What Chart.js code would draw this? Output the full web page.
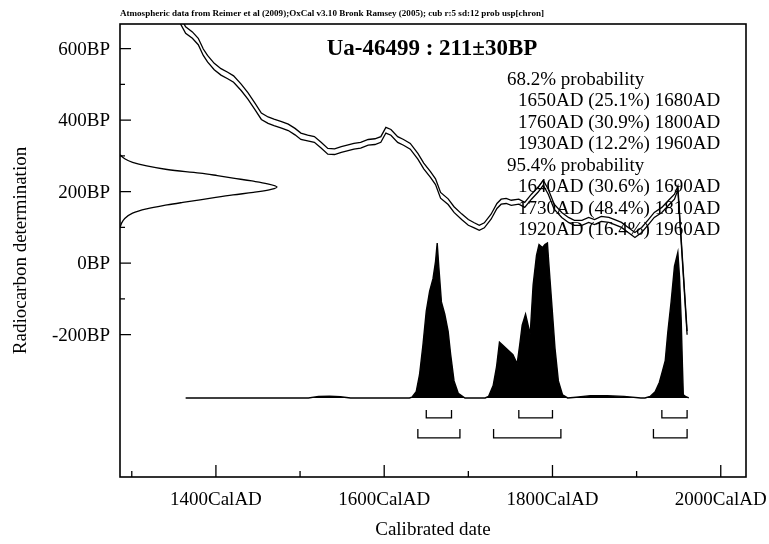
<!DOCTYPE html>
<html>
<head>
<meta charset="utf-8">
<title>Ua-46499 : 211±30BP</title>
<script src="https://cdn.jsdelivr.net/npm/chart.js@4/dist/chart.umd.min.js"></script>
<style>
  body { margin: 0; background: #fff; }
  canvas { display: block; }
</style>
</head>
<body>
<canvas id="chart" width="769" height="544"></canvas>
<script>
// calibration curve band (upper / lower edge)
const calYears = [
    1355, 1364, 1372, 1379, 1385, 1390, 1398, 1406, 1414, 1421,
    1430, 1438, 1446, 1454, 1462, 1469, 1478, 1486, 1494, 1501,
    1509, 1517, 1525, 1533, 1541, 1549, 1556, 1564, 1572, 1581,
    1589, 1596, 1602, 1608, 1616, 1623, 1631, 1640, 1647, 1655,
    1661, 1667, 1676, 1683, 1692, 1700, 1707, 1713, 1719, 1727,
    1734, 1739, 1745, 1751, 1760, 1767, 1775, 1783, 1789, 1795,
    1802, 1811, 1819, 1826, 1835, 1843, 1850, 1858, 1867, 1874,
    1882, 1890, 1898, 1906, 1914, 1921, 1930, 1938, 1945, 1949,
    1960
];
const calUpper = [
    700, 661, 647, 629, 599, 581, 559, 544, 534, 524,
    501, 477, 449, 420, 409, 403, 396, 389, 377, 364,
    358, 354, 338, 321, 320, 326, 330, 335, 338, 346,
    348, 354, 380, 374, 354, 346, 335, 307, 280, 256,
    236, 198, 180, 158, 138, 122, 113, 106, 113, 137,
    167, 179, 181, 176, 179, 170, 193, 213, 232, 207,
    165, 142, 128, 120, 120, 128, 122, 131, 128, 122,
    114, 100, 86, 100, 122, 142, 156, 176, 193, 215,
    -190
];
const calLower = [
    682, 643, 629, 611, 581, 563, 541, 526, 516, 506,
    483, 459, 431, 402, 391, 385, 378, 371, 359, 346,
    342, 338, 322, 305, 304, 310, 314, 319, 322, 330,
    332, 338, 364, 358, 338, 330, 319, 291, 264, 240,
    220, 182, 164, 142, 122, 106, 99, 92, 99, 123,
    153, 165, 167, 162, 165, 156, 179, 199, 218, 193,
    151, 128, 114, 106, 106, 114, 108, 117, 114, 108,
    100, 86, 72, 86, 108, 128, 142, 162, 179, 205,
    -200
];

// radiocarbon measurement, drawn sideways on the y axis
const dateBP = [303, 292, 282, 272, 262, 252, 245, 238, 230, 222, 213, 205,
    198, 191, 184, 177, 170, 163, 152, 140, 125, 112, 99];
const dateDensity = [0, 0.03, 0.08, 0.17, 0.3, 0.51, 0.62, 0.72, 0.84, 0.94, 1.0, 0.95,
    0.85, 0.72, 0.61, 0.51, 0.4, 0.3, 0.17, 0.08, 0.03, 0.01, 0];

// calibrated date distribution
const probYears = [
    1364, 1510, 1522, 1535, 1548, 1560, 1630, 1633, 1638, 1642,
    1646, 1650, 1654, 1658, 1661, 1663, 1665, 1668, 1672, 1676,
    1679, 1683, 1688, 1696, 1720, 1724, 1729.5, 1733.5, 1737, 1741,
    1747, 1753, 1758, 1761, 1764, 1768, 1771, 1773.5, 1777, 1781,
    1784, 1788, 1791, 1794, 1795.5, 1799, 1803, 1807, 1812, 1818,
    1828, 1845, 1865, 1885, 1905, 1910, 1916, 1922, 1927, 1931,
    1934, 1937, 1941, 1945, 1949, 1951, 1953, 1954.5, 1955.5, 1958,
    1962
];
const probValues = [
    0, 0, 0.01, 0.012, 0.008, 0, 0, 0.005, 0.04, 0.15,
    0.34, 0.56, 0.69, 0.77, 0.88, 1.0, 0.84, 0.62, 0.54, 0.43,
    0.28, 0.11, 0.03, 0, 0, 0.01, 0.08, 0.2, 0.36, 0.34,
    0.31, 0.28, 0.22, 0.34, 0.47, 0.54, 0.47, 0.41, 0.73, 0.92,
    0.99, 0.97, 0.99, 1.0, 0.88, 0.62, 0.32, 0.11, 0.02, 0,
    0.005, 0.015, 0.015, 0.01, 0, 0, 0.01, 0.04, 0.1, 0.18,
    0.24, 0.42, 0.62, 0.85, 0.94, 0.78, 0.5, 0.2, 0.02, 0.01,
    0
];

const range68 = [[1650, 1680], [1760, 1800], [1930, 1960]];
const pct68 = [25.1, 30.9, 12.2];
const range95 = [[1640, 1690], [1730, 1810], [1920, 1960]];
const pct95 = [30.6, 48.4, 16.4];

const xMajorTicks = [1400, 1600, 1800, 2000];
const xMinorTicks = [1300, 1500, 1700, 1900];
const yMajorTicks = [600, 400, 200, 0, -200];
const yMinorTicks = [500, 300, 100, -100];

const caption = "Atmospheric data from Reimer et al (2009);OxCal v3.10 Bronk Ramsey (2005); cub r:5 sd:12 prob usp[chron]";
const sampleTitle = "Ua-46499 : 211\u00b130BP";

const serif = '"Liberation Serif", "Times New Roman", serif';

function pairs(xs, ys) {
    return xs.map(function (v, i) { return { x: v, y: ys[i] }; });
}

const oxcalPlugin = {
    id: 'oxcal',
    beforeDraw(chart) {
        const ctx = chart.ctx;
        ctx.save();
        ctx.fillStyle = '#fff';
        ctx.fillRect(0, 0, chart.width, chart.height);
        ctx.restore();
    },
    afterDraw(chart) {
        const ctx = chart.ctx;
        const a = chart.chartArea;
        const x = chart.scales.x, y = chart.scales.y, yp = chart.scales.yp;
        ctx.save();
        ctx.strokeStyle = '#000';
        ctx.fillStyle = '#000';

        // frame
        ctx.lineWidth = 1.6;
        ctx.strokeRect(a.left, a.top, a.right - a.left, a.bottom - a.top);

        // inward ticks
        ctx.lineWidth = 1.3;
        ctx.beginPath();
        xMajorTicks.forEach(function (v) {
            const px = x.getPixelForValue(v);
            ctx.moveTo(px, a.bottom); ctx.lineTo(px, a.bottom - 12);
        });
        xMinorTicks.forEach(function (v) {
            const px = x.getPixelForValue(v);
            ctx.moveTo(px, a.bottom); ctx.lineTo(px, a.bottom - 6);
        });
        yMajorTicks.forEach(function (v) {
            const py = y.getPixelForValue(v);
            ctx.moveTo(a.left, py); ctx.lineTo(a.left + 11, py);
        });
        yMinorTicks.forEach(function (v) {
            const py = y.getPixelForValue(v);
            ctx.moveTo(a.left, py); ctx.lineTo(a.left + 5, py);
        });
        ctx.stroke();

        // range brackets under the distribution
        const base = yp.getPixelForValue(0);
        ctx.lineWidth = 1.3;
        ctx.beginPath();
        [[range68, 12, 20], [range95, 31, 40]].forEach(function (row) {
            row[0].forEach(function (r) {
                const x0 = x.getPixelForValue(r[0]), x1 = x.getPixelForValue(r[1]);
                ctx.moveTo(x0, base + row[1]);
                ctx.lineTo(x0, base + row[2]);
                ctx.lineTo(x1, base + row[2]);
                ctx.lineTo(x1, base + row[1]);
            });
        });
        ctx.stroke();

        // tick labels
        ctx.font = '19px ' + serif;
        ctx.textBaseline = 'middle';
        ctx.textAlign = 'right';
        yMajorTicks.forEach(function (v) {
            ctx.fillText(v + 'BP', a.left - 10, y.getPixelForValue(v) + 1);
        });
        ctx.textAlign = 'center';
        xMajorTicks.forEach(function (v) {
            ctx.fillText(v + 'CalAD', x.getPixelForValue(v), a.bottom + 23);
        });

        // axis titles
        ctx.fillText('Calibrated date', (a.left + a.right) / 2, a.bottom + 53);
        ctx.save();
        ctx.translate(21, (a.top + a.bottom) / 2);
        ctx.rotate(-Math.PI / 2);
        ctx.fillText('Radiocarbon determination', 0, 0);
        ctx.restore();

        // caption across the top, fitted to its printed width
        ctx.font = 'bold 10px ' + serif;
        const w = ctx.measureText(caption).width;
        ctx.font = 'bold ' + (10 * 424 / w).toFixed(2) + 'px ' + serif;
        ctx.textAlign = 'left';
        ctx.fillText(caption, a.left, 14);

        // sample title
        ctx.font = 'bold 23px ' + serif;
        ctx.textAlign = 'center';
        ctx.fillText(sampleTitle, 432, 49);

        // probability ranges
        ctx.font = '19px ' + serif;
        ctx.textAlign = 'left';
        let line = 0;
        const lineY = function () { return 80 + 21.5 * (line++); };
        ctx.fillText('68.2% probability', 507, lineY());
        range68.forEach(function (r, i) {
            ctx.fillText(r[0] + 'AD (' + pct68[i].toFixed(1) + '%) ' + r[1] + 'AD', 518, lineY());
        });
        ctx.fillText('95.4% probability', 507, lineY());
        range95.forEach(function (r, i) {
            ctx.fillText(r[0] + 'AD (' + pct95[i].toFixed(1) + '%) ' + r[1] + 'AD', 518, lineY());
        });
        ctx.restore();
    }
};

new Chart(document.getElementById('chart'), {
    type: 'line',
    data: {
        datasets: [
            {
                data: pairs(calYears, calUpper),
                xAxisID: 'x', yAxisID: 'y',
                borderColor: '#000', borderWidth: 1.3,
                pointRadius: 0, tension: 0, fill: false, clip: 0
            },
            {
                data: pairs(calYears, calLower),
                xAxisID: 'x', yAxisID: 'y',
                borderColor: '#000', borderWidth: 1.3,
                pointRadius: 0, tension: 0, fill: false, clip: 0
            },
            {
                data: pairs(dateDensity, dateBP),
                xAxisID: 'xg', yAxisID: 'y',
                borderColor: '#000', borderWidth: 1.3,
                pointRadius: 0, tension: 0.35, fill: false, clip: 0
            },
            {
                data: pairs(probYears, probValues),
                xAxisID: 'x', yAxisID: 'yp',
                borderColor: '#000', borderWidth: 1.4,
                backgroundColor: '#000',
                pointRadius: 0, tension: 0, fill: 'origin'
            }
        ]
    },
    options: {
        responsive: false,
        animation: false,
        devicePixelRatio: 1,
        layout: { padding: { left: 120, right: 23, top: 24, bottom: 67 } },
        scales: {
            x: { type: 'linear', min: 1286, max: 2030, display: false },
            xg: { type: 'linear', min: 0, max: 3.987, display: false },
            y: { type: 'linear', min: -598, max: 669, display: false },
            yp: { type: 'linear', min: -0.51, max: 2.413, display: false }
        },
        plugins: {
            legend: { display: false },
            tooltip: { enabled: false }
        }
    },
    plugins: [oxcalPlugin]
});
</script>
</body>
</html>
